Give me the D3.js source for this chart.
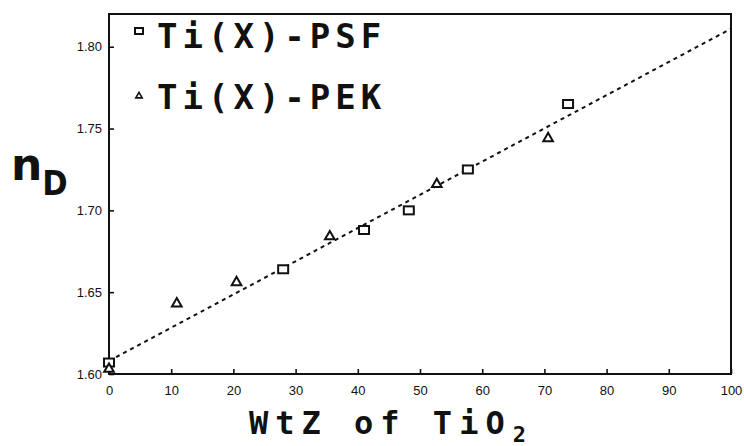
<!DOCTYPE html>
<html>
<head>
<meta charset="utf-8">
<script src="https://cdn.jsdelivr.net/npm/d3@7"></script>
<style>
  body { margin: 0; background: #fff; }
  .tick text { font-family: "Liberation Sans", Arial, sans-serif; font-size: 13px; fill: #111; }
</style>
</head>
<body>
<div id="chart"></div>
<script>
// wt% TiO2 vs refractive index n_D
var psfX = [0, 28, 41, 48.2, 57.7, 73.8];
var psfN = [1.607, 1.664, 1.688, 1.700, 1.725, 1.765];
var pekX = [0, 10.9, 20.5, 35.5, 52.7, 70.6];
var pekN = [1.603, 1.643, 1.656, 1.684, 1.716, 1.744];
// dotted fit line end points
var fitX = [0, 100];
var fitN = [1.608, 1.811];
var xTicks = [0, 10, 20, 30, 40, 50, 60, 70, 80, 90, 100];
var yTicks = [1.60, 1.65, 1.70, 1.75, 1.80];
var legendLabels = ["Ti(X)-PSF", "Ti(X)-PEK"];

var margin = {top: 14, right: 13, bottom: 72, left: 109},
    width = 744 - margin.left - margin.right,
    height = 446 - margin.top - margin.bottom;

var svg = d3.select("#chart")
  .append("svg")
  .attr("width", 744)
  .attr("height", 446);

var g = svg.append("g")
  .attr("transform", "translate(" + margin.left + "," + margin.top + ")");

var x = d3.scaleLinear().domain([0, 100]).range([0, width]);
var y = d3.scaleLinear().domain([1.60, 1.82]).range([height, 0]);

// axes, ticks pointing inward
var xAxis = g.append("g")
  .attr("transform", "translate(0," + height + ")")
  .call(d3.axisBottom(x).tickValues(xTicks).tickSizeInner(-5).tickSizeOuter(0).tickPadding(12));
var yAxis = g.append("g")
  .call(d3.axisLeft(y).tickValues(yTicks).tickFormat(d3.format(".2f")).tickSizeInner(-5).tickSizeOuter(0).tickPadding(7));
xAxis.select(".domain").remove();
yAxis.select(".domain").remove();
g.selectAll(".tick line").attr("stroke", "#111").attr("stroke-width", 1.6);

// frame
g.append("rect")
  .attr("x", 0).attr("y", 0)
  .attr("width", width).attr("height", height)
  .attr("fill", "none")
  .attr("stroke", "#111")
  .attr("stroke-width", 2);

// fit line
var fit = fitX.map(function(d, i) { return [d, fitN[i]]; });
g.append("path")
  .datum(fit)
  .attr("d", d3.line().x(function(d) { return x(d[0]); }).y(function(d) { return y(d[1]); }))
  .attr("stroke", "#111")
  .attr("stroke-width", 2)
  .attr("stroke-dasharray", "4,4")
  .attr("fill", "none");

// squares
g.selectAll(".sq")
  .data(psfX.map(function(d, i) { return [d, psfN[i]]; }))
  .enter().append("rect")
  .attr("class", "sq")
  .attr("x", function(d) { return x(d[0]) - 5; })
  .attr("y", function(d) { return y(d[1]) - 4; })
  .attr("width", 10)
  .attr("height", 8)
  .attr("fill", "#fff")
  .attr("stroke", "#111")
  .attr("stroke-width", 2);

// triangles
var tri = d3.symbol().type(d3.symbolTriangle).size(40);
g.selectAll(".tri")
  .data(pekX.map(function(d, i) { return [d, pekN[i]]; }))
  .enter().append("path")
  .attr("class", "tri")
  .attr("d", tri)
  .attr("transform", function(d) { return "translate(" + x(d[0]) + "," + y(d[1]) + ")"; })
  .attr("fill", "#fff")
  .attr("stroke", "#111")
  .attr("stroke-width", 2);

// legend
var legend = svg.append("g");
legend.append("rect")
  .attr("x", 135).attr("y", 28).attr("width", 8).attr("height", 6)
  .attr("fill", "none").attr("stroke", "#111").attr("stroke-width", 2);
legend.append("path")
  .attr("d", d3.symbol().type(d3.symbolTriangle).size(18))
  .attr("transform", "translate(139,96)")
  .attr("fill", "none").attr("stroke", "#111").attr("stroke-width", 1.6);
legend.selectAll("text")
  .data(legendLabels)
  .enter().append("text")
  .attr("x", 157)
  .attr("y", function(d, i) { return 48 + i * 61; })
  .attr("font-family", "DejaVu Sans Mono, monospace")
  .attr("font-weight", "bold")
  .attr("font-size", 34)
  .attr("letter-spacing", 5)
  .attr("fill", "#111")
  .text(function(d) { return d; });

// axis titles
var xt = svg.append("text")
  .attr("x", 249)
  .attr("y", 434)
  .attr("font-family", "DejaVu Sans Mono, monospace")
  .attr("font-weight", "bold")
  .attr("font-size", 32)
  .attr("letter-spacing", 7)
  .attr("fill", "#111")
  .text("WtZ of TiO");
// subscript 2 placed after the title
var xtEnd = 249 + xt.node().getComputedTextLength();
svg.append("text")
  .attr("x", xtEnd + 1)
  .attr("y", 442)
  .attr("font-family", "DejaVu Sans Mono, monospace")
  .attr("font-weight", "bold")
  .attr("font-size", 22)
  .attr("fill", "#111")
  .text("2");

var yt = svg.append("text")
  .attr("x", 11)
  .attr("y", 180)
  .attr("font-family", "DejaVu Sans, sans-serif")
  .attr("font-weight", "bold")
  .attr("fill", "#111");
yt.append("tspan").attr("font-size", 44).text("n");
yt.append("tspan").attr("dy", 15).attr("font-size", 34).attr("font-family", "DejaVu Sans Condensed, DejaVu Sans, sans-serif").text("D");
</script>
</body>
</html>
